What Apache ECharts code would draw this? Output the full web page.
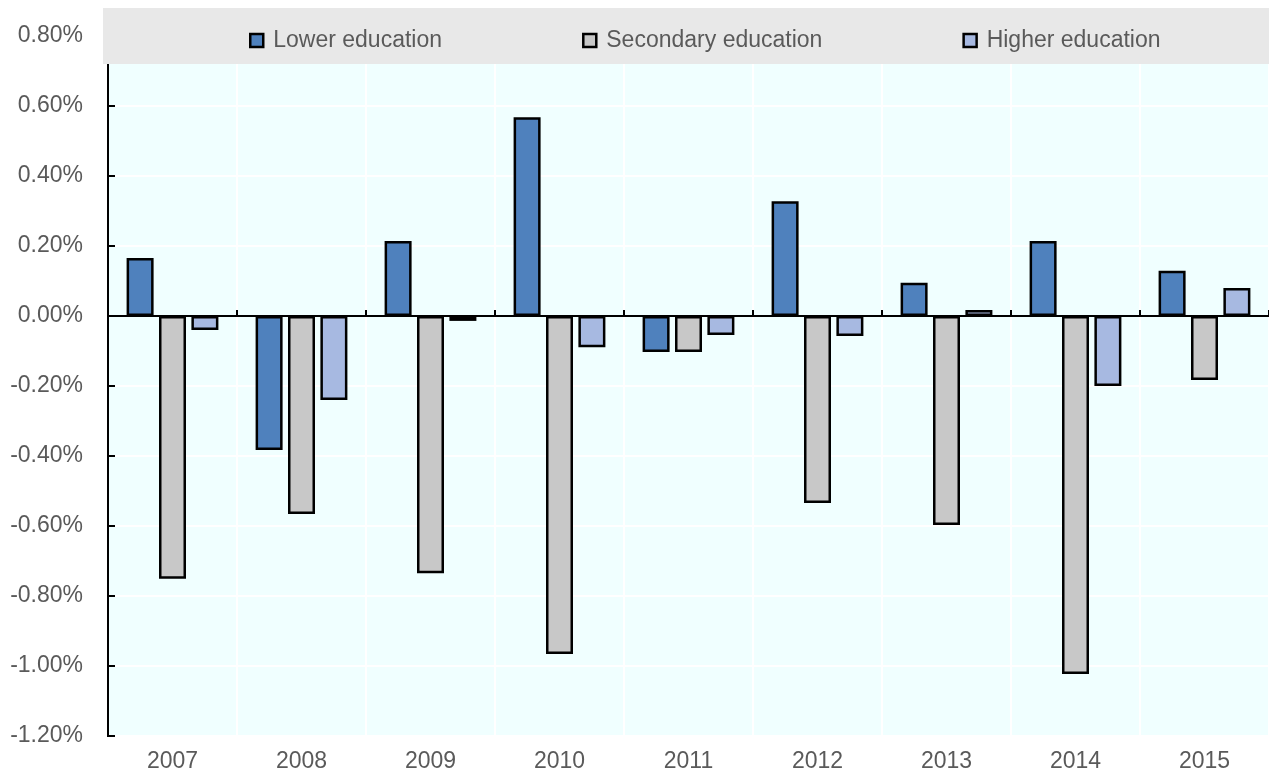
<!DOCTYPE html>
<html>
<head>
<meta charset="utf-8">
<script src="https://cdn.jsdelivr.net/npm/echarts@6/dist/echarts.min.js"></script>
<style>
  html, body { margin: 0; padding: 0; background: #fff; }
  #chart { width: 1269px; height: 773px; }
</style>
</head>
<body>
<div id="chart"></div>
<script>
// Annual change in employment share by education level (percentage points)
const years = ['2007', '2008', '2009', '2010', '2011', '2012', '2013', '2014', '2015'];
const lowerEducation = [0.166, -0.383, 0.214, 0.568, -0.103, 0.328, 0.095, 0.214, 0.129];
const secondaryEducation = [-0.751, -0.566, -0.735, -0.966, -0.103, -0.534, -0.597, -1.023, -0.183];
const higherEducation = [-0.040, -0.240, -0.014, -0.089, -0.054, -0.057, 0.017, -0.200, 0.080];
const seriesNames = ['Lower education', 'Secondary education', 'Higher education'];
const seriesColors = ['#4f81bd', '#c8c8c8', '#a7b9e1'];

const FONT = "'Liberation Sans', Arial, sans-serif";
const TEXT = '#5a5a5a';
const FONT_SIZE = 23;

const chart = echarts.init(document.getElementById('chart'));

function barSeries(name, data, color) {
  return {
    name: name,
    type: 'bar',
    xAxisIndex: 0,
    data: data,
    barWidth: 27,
    barGap: '20%',
    itemStyle: { color: color, borderColor: '#000', borderWidth: 2.5 },
    emphasis: { disabled: true }
  };
}

chart.setOption({
  animation: false,
  textStyle: { fontFamily: FONT },
  grid: {
    left: 108, right: -16, top: 36, bottom: 37,
    show: true,
    backgroundColor: '#f0ffff',
    borderColor: '#000',
    borderWidth: 2
  },
  legend: {
    left: 244, top: 24,
    z: 10,
    icon: 'rect',
    itemWidth: 13, itemHeight: 13,
    itemGap: 140,
    itemStyle: { borderColor: '#000', borderWidth: 2.5 },
    textStyle: { fontFamily: FONT, fontSize: FONT_SIZE, color: TEXT, padding: [0, 0, 0, 5] },
    data: seriesNames
  },
  graphic: [{
    type: 'rect',
    z: 5,
    shape: { x: 103, y: 8, width: 1166, height: 56 },
    style: { fill: '#e8e8e8' },
    silent: true
  }],
  xAxis: [{
    type: 'category',
    data: years,
    position: 'bottom',
    axisLine: { show: false, onZero: false },
    axisTick: { show: false },
    axisLabel: { fontFamily: FONT, fontSize: FONT_SIZE, color: TEXT, margin: 14 },
    splitLine: { show: true, lineStyle: { color: '#ffffff', width: 2 } }
  }, {
    type: 'category',
    data: years,
    position: 'bottom',
    axisLine: { show: true, onZero: true, lineStyle: { color: '#000', width: 2 } },
    axisTick: { show: true, inside: true, length: 6, lineStyle: { color: '#000', width: 2 } },
    axisLabel: { show: false },
    splitLine: { show: false }
  }],
  yAxis: {
    type: 'value',
    min: -1.2, max: 0.8, interval: 0.2,
    axisLine: { show: true, lineStyle: { color: '#000', width: 2 } },
    axisTick: { show: true, inside: true, length: 7, lineStyle: { color: '#000', width: 2 } },
    axisLabel: {
      fontFamily: FONT, fontSize: FONT_SIZE, color: TEXT, margin: 25,
      formatter: v => v.toFixed(2) + '%'
    },
    splitLine: { show: true, lineStyle: { color: '#ffffff', width: 2 } }
  },
  series: [
    barSeries(seriesNames[0], lowerEducation, seriesColors[0]),
    barSeries(seriesNames[1], secondaryEducation, seriesColors[1]),
    barSeries(seriesNames[2], higherEducation, seriesColors[2])
  ]
});
</script>
</body>
</html>
